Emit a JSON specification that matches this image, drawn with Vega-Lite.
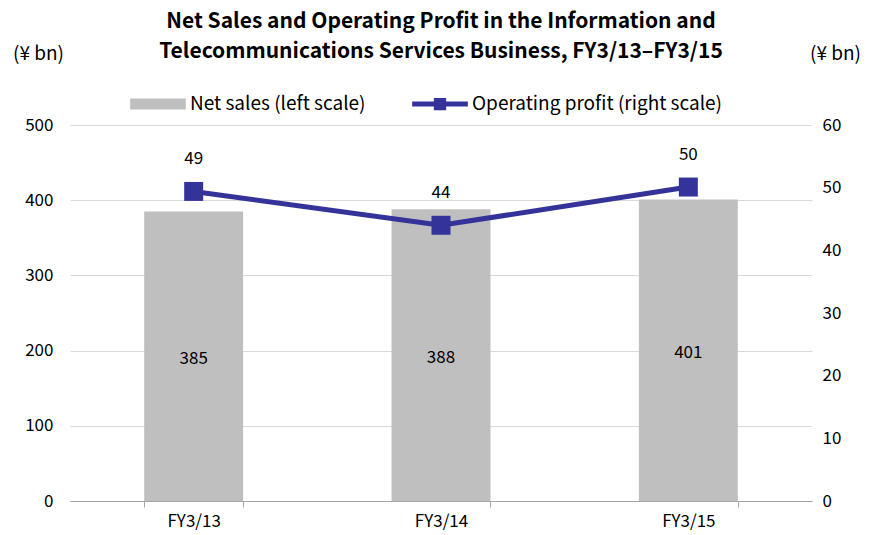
{
  "$schema": "https://vega.github.io/schema/vega-lite/v6.json",
  "autosize": "none",
  "width": 742,
  "height": 376,
  "padding": {"left": 70, "top": 125, "right": 64, "bottom": 34},
  "background": "white",
  "config": {"font": "Noto Sans CJK JP", "view": {"stroke": null}},
  "title": {
    "text": ["Net Sales and Operating Profit in the Information and", "Telecommunications Services Business, FY3/13–FY3/15"],
    "fontSize": 21,
    "fontWeight": "bold",
    "anchor": "middle",
    "lineHeight": 30,
    "offset": -18,
    "color": "black"
  },
  "data": {
    "values": [
      {"year": "FY3/13", "sales": 385, "profit": 49.4, "profitLabel": "49"},
      {"year": "FY3/14", "sales": 388, "profit": 44.0, "profitLabel": "44"},
      {"year": "FY3/15", "sales": 401, "profit": 50.1, "profitLabel": "50"}
    ]
  },
  "encoding": {
    "x": {
      "field": "year",
      "type": "nominal",
      "sort": null,
      "scale": {"paddingInner": 0.6, "paddingOuter": 0.3},
      "axis": {
        "title": null,
        "labelAngle": 0,
        "labelFontSize": 17,
        "labelColor": "black",
        "labelPadding": 6,
        "domainColor": "#a6a6a6",
        "tickColor": "#a6a6a6",
        "tickSize": 6,
        "tickBand": "extent",
        "grid": false
      }
    }
  },
  "layer": [
    {
      "layer": [
        {
          "mark": {"type": "bar"},
          "encoding": {
            "y": {
              "field": "sales",
              "type": "quantitative",
              "scale": {"domain": [0, 500]},
              "axis": {
                "orient": "left",
                "values": [0, 100, 200, 300, 400, 500],
                "domain": false,
                "ticks": false,
                "tickSize": 0,
                "labelPadding": 17,
                "labelFontSize": 17,
                "labelColor": "black",
                "grid": true,
                "gridColor": "#d9d9d9",
                "title": "(¥ bn)",
                "titleAngle": 0,
                "titleX": -32,
                "titleY": -72,
                "titleAlign": "center",
                "titleBaseline": "middle",
                "titleFontSize": 19,
                "titleFontWeight": "normal",
                "titleColor": "black"
              }
            },
            "color": {
              "datum": "Net sales (left scale)",
              "type": "nominal",
              "scale": {"domain": ["Net sales (left scale)", "Operating profit (right scale)"], "range": ["#bfbfbf", "#333399"]},
              "legend": {
                "orient": "none",
                "legendX": 60,
                "legendY": -49,
                "direction": "horizontal",
                "title": null,
                "labelFontSize": 19,
                "labelLimit": 400,
                "labelColor": "black",
                "symbolSize": 3100,
                "columnPadding": 46,
                "labelOffset": 4,
                "encode": {
                  "symbols": {
                    "update": {
                      "shape": {"signal": "datum.value === 'Net sales (left scale)' ? 'M-1,-0.2H1V0.2H-1Z' : 'M-1,-0.09H-0.22V-0.22H0.22V-0.09H1V0.09H0.22V0.22H-0.22V0.09H-1Z'"},
                      "strokeWidth": {"value": 0},
                      "fill": {"signal": "scale('color', datum.value)"},
                      "fillOpacity": {"value": 1},
                      "opacity": {"value": 1}
                    }
                  }
                }
              }
            }
          }
        },
        {
          "transform": [{"calculate": "datum.sales / 2", "as": "mid"}],
          "mark": {"type": "text", "fontSize": 17, "color": "black", "dy": 3},
          "encoding": {
            "y": {"field": "mid", "type": "quantitative"},
            "text": {"field": "sales", "type": "quantitative"}
          }
        }
      ]
    },
    {
      "layer": [
        {
          "mark": {"type": "line", "strokeWidth": 5, "point": {"shape": "square", "size": 360, "filled": true, "color": "#333399", "opacity": 1}},
          "encoding": {
            "y": {
              "field": "profit",
              "type": "quantitative",
              "scale": {"domain": [0, 60]},
              "axis": {
                "orient": "right",
                "values": [0, 10, 20, 30, 40, 50, 60],
                "domain": false,
                "ticks": false,
                "tickSize": 0,
                "labelPadding": 10,
                "labelFontSize": 17,
                "labelColor": "black",
                "grid": false,
                "title": "(¥ bn)",
                "titleAngle": 0,
                "titleX": 23,
                "titleY": -72,
                "titleAlign": "center",
                "titleBaseline": "middle",
                "titleFontSize": 19,
                "titleFontWeight": "normal",
                "titleColor": "black"
              }
            },
            "color": {"datum": "Operating profit (right scale)", "type": "nominal"}
          }
        },
        {
          "mark": {"type": "text", "fontSize": 17, "color": "black", "dy": -32},
          "encoding": {
            "y": {"field": "profit", "type": "quantitative"},
            "text": {"field": "profitLabel", "type": "nominal"}
          }
        }
      ]
    }
  ],
  "resolve": {"scale": {"y": "independent"}}
}
